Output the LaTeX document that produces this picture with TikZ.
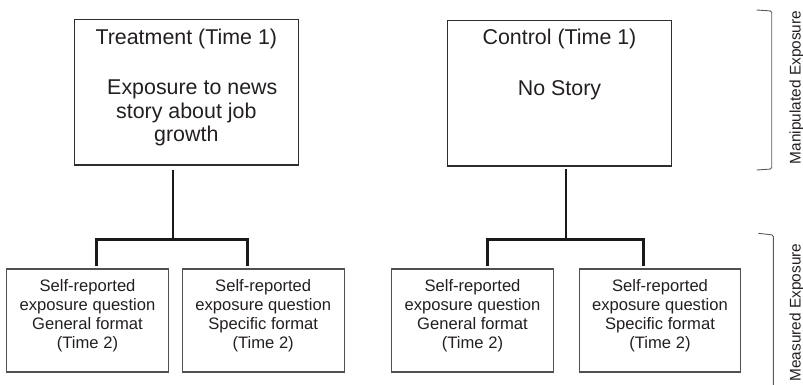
\documentclass[tikz,border=0pt]{standalone}
\usepackage{fontspec}
\setmainfont{Liberation Sans}
\definecolor{txtcol}{RGB}{35,31,32}
\definecolor{boxcol}{RGB}{45,45,45}
\definecolor{boxcolb}{RGB}{80,80,80}
\definecolor{linecol}{RGB}{25,25,25}
\definecolor{bracecol}{RGB}{90,90,90}
\tikzset{
  bigbox/.style={draw=boxcol, line width=1.1pt, minimum width=224pt, minimum height=145.5pt, inner sep=0pt},
  smallbox/.style={draw=boxcolb, line width=1.1pt, minimum width=161.7pt, minimum height=103pt, inner sep=0pt},
  bigtext/.style={font=\fontsize{21.4}{23.3}\selectfont, align=center, anchor=north, inner sep=0pt, text=txtcol},
  smalltext/.style={font=\fontsize{16.6}{19.1}\selectfont, align=center, anchor=north, inner sep=0pt, text=txtcol},
  stemline/.style={draw=linecol, line width=2pt},
  barline/.style={draw=linecol, line width=3pt, line join=miter},
  braceline/.style={draw=bracecol, line width=0.9pt, rounded corners=1.5pt},
  sidetext/.style={font=\fontsize{15.4}{18}\selectfont, rotate=90, inner sep=0pt, text=txtcol}
}
\begin{document}
\begin{tikzpicture}[x=1pt, y=-1pt]
\useasboundingbox (0,0) rectangle (803,385);

% top boxes
\node[bigbox] (treat) at (186.3,92.25) {};
\node[bigtext] (treattxt) at ([yshift=-10.2pt]treat.north) {Treatment (Time 1)\\[26.7pt]\hspace*{12pt}Exposure to news\\story about job\\growth};
\node[bigbox] (ctrl) at (559.5,93.25) {};
\node[bigtext] (ctrltxt) at ([yshift=-9.2pt]ctrl.north) {Control (Time 1)\\[27.7pt]No Story};

% bottom boxes
\node[smallbox] (g1) at (87.5,320.5) {};
\node[smallbox] (g2) at (263.2,320.5) {};
\node[smallbox] (c1) at (472.5,320.5) {};
\node[smallbox] (c2) at (660,320.5) {};
\node[smalltext] (g1t) at ([yshift=-10.6pt]g1.north) {Self-reported\\exposure question\\General format\\(Time 2)};
\node[smalltext] (g2t) at ([yshift=-10.6pt]g2.north) {Self-reported\\exposure question\\Specific format\\(Time 2)};
\node[smalltext] (c1t) at ([yshift=-10.6pt]c1.north) {Self-reported\\exposure question\\General format\\(Time 2)};
\node[smalltext] (c2t) at ([yshift=-10.6pt]c2.north) {Self-reported\\exposure question\\Specific format\\(Time 2)};

% connectors
\coordinate (tj) at (173.3,239.3);
\coordinate (cj) at (566,239.3);
\draw[stemline] ([xshift=-13pt,yshift=-4pt]treat.south) -- (tj);
\draw[barline] ([xshift=8.5pt,yshift=2.3pt]g1.north) |- (tj) -| ([xshift=-16.2pt,yshift=2.3pt]g2.north);
\draw[stemline] ([xshift=6.5pt,yshift=-2.5pt]ctrl.south) -- (cj);
\draw[barline] ([xshift=15pt,yshift=2.3pt]c1.north) |- (cj) -| ([xshift=-16.5pt,yshift=2.3pt]c2.north);

% brackets
\draw[braceline] (756.7,10) -- (771.7,11) -- (771.7,169) -- (756.7,170);
\draw[braceline] (758.3,233.3) -- (773.3,235) -- (773.3,390);

% side labels
\node[sidetext] (manip) at (796.7,87.5) {Manipulated Exposure};
\node[sidetext] (meas) at (796.7,312.5) {Measured Exposure};
\end{tikzpicture}
\end{document}
